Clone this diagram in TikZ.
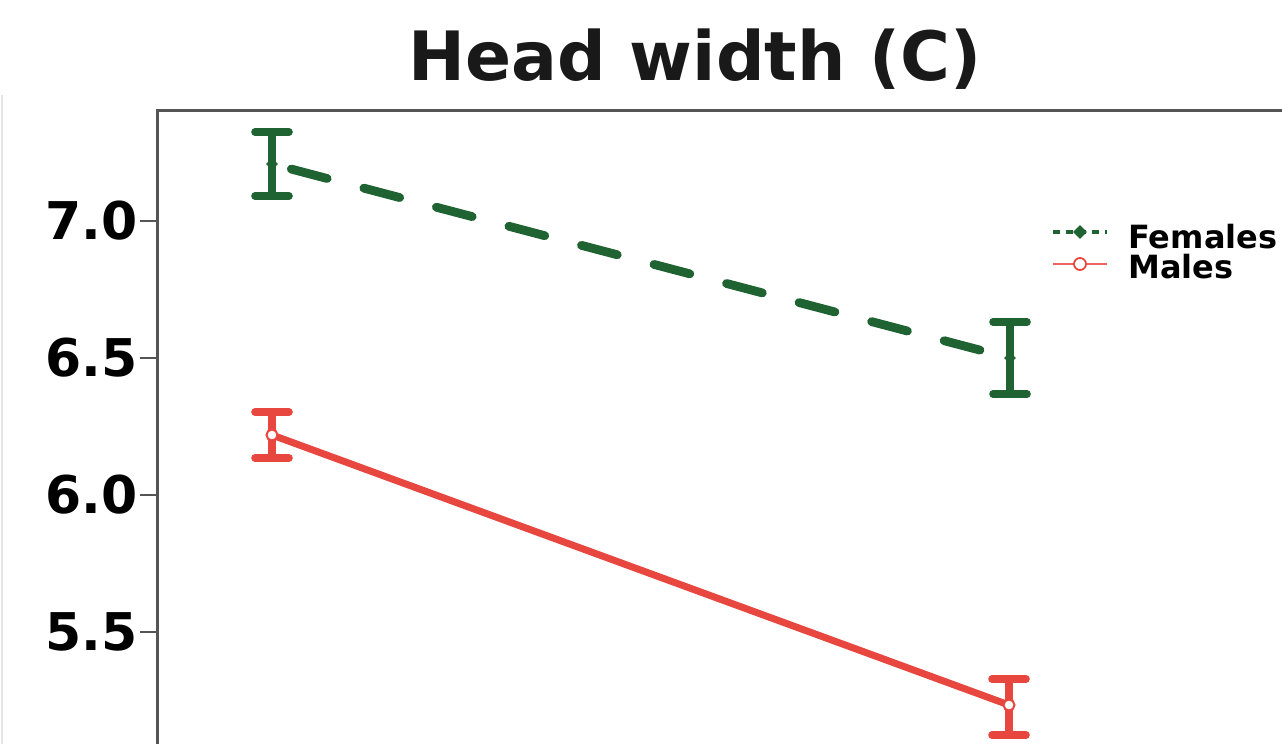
\documentclass[tikz,border=0pt]{standalone}
\usepackage{fontspec}
\setmainfont{DejaVu Sans}
\usetikzlibrary{shapes.geometric}

\definecolor{femgreen}{HTML}{1E6331}
\definecolor{malered}{HTML}{E8473F}
\definecolor{framegray}{HTML}{555555}

\begin{document}
\begin{tikzpicture}[
    x=0.5pt, y=-0.5pt,
    ticklabel/.style={
      anchor=east,
      inner sep=0pt,
      font=\fontsize{26}{30}\selectfont\bfseries
    },
    legendlabel/.style={
      anchor=base west,
      inner sep=0pt,
      font=\fontsize{16}{19}\selectfont\bfseries
    },
    errbar/.style={line width=3.8pt, line cap=round},
    femline/.style={femgreen, line width=4.4pt, line cap=round,
      dash pattern=on 18.5pt off 19pt, dash phase=27.5pt},
    maleline/.style={malered, line width=3.5pt, line cap=round},
    femmean/.style={diamond, fill=femgreen, inner sep=0pt, minimum size=6pt},
    malemean/.style={circle, draw=malered, fill=white, line width=1pt,
      inner sep=0pt, minimum size=5.5pt},
]

% page and frame
\useasboundingbox[fill=white] (0,0) rectangle (1282,744);
\draw[gray!20, line width=1pt] (2,95) -- (2,744);

\coordinate (frameBL) at (157,744);
\coordinate (frameTL) at (157,110);
\coordinate (frameTR) at (1282,110);
\draw[framegray, line width=1.5pt] (frameBL) -- (frameTL) -- (frameTR);

\node[anchor=base, font=\fontsize{34}{40}\selectfont\bfseries, text=black!90] (title) at (695,80) {Head width (C)};

% y axis
\draw[framegray, line width=1.2pt] (140,221) -- (157,221);
\draw[framegray, line width=1.2pt] (140,358) -- (157,358);
\draw[framegray, line width=1.2pt] (140,495) -- (157,495);
\draw[framegray, line width=1.2pt] (140,632) -- (157,632);
\node[ticklabel] (t70) at (138,221) {7.0};
\node[ticklabel] (t65) at (138,358) {6.5};
\node[ticklabel] (t60) at (138,495) {6.0};
\node[ticklabel] (t55) at (138,632) {5.5};

% females
\coordinate (femA) at (272,164);
\coordinate (femAtop) at (272,132);
\coordinate (femAbot) at (272,196);
\coordinate (femB) at (1010,358);
\coordinate (femBtop) at (1010,322);
\coordinate (femBbot) at (1010,394);

% males
\coordinate (maleA) at (272,435);
\coordinate (maleAtop) at (272,412);
\coordinate (maleAbot) at (272,458);
\coordinate (maleB) at (1009,705);
\coordinate (maleBtop) at (1009,679);
\coordinate (maleBbot) at (1009,735);

\draw[femline] (femA) -- (femB);
\draw[maleline] (maleA) -- (maleB);

\draw[errbar, femgreen] ([xshift=-8.5pt]femAtop) -- ([xshift=8.5pt]femAtop) (femAtop) -- (femAbot)
  ([xshift=-8.5pt]femAbot) -- ([xshift=8.5pt]femAbot);
\draw[errbar, femgreen] ([xshift=-8.5pt]femBtop) -- ([xshift=8.5pt]femBtop) (femBtop) -- (femBbot)
  ([xshift=-8.5pt]femBbot) -- ([xshift=8.5pt]femBbot);
\draw[errbar, malered] ([xshift=-8.5pt]maleAtop) -- ([xshift=8.5pt]maleAtop) (maleAtop) -- (maleAbot)
  ([xshift=-8.5pt]maleAbot) -- ([xshift=8.5pt]maleAbot);
\draw[errbar, malered] ([xshift=-8.5pt]maleBtop) -- ([xshift=8.5pt]maleBtop) (maleBtop) -- (maleBbot)
  ([xshift=-8.5pt]maleBbot) -- ([xshift=8.5pt]maleBbot);

\node[femmean] (femAmark) at (femA) {};
\node[femmean] (femBmark) at (femB) {};
\node[malemean] (maleAmark) at (maleA) {};
\node[malemean] (maleBmark) at (maleB) {};

% legend
\coordinate (legFemL) at (1053,232);
\coordinate (legFemR) at (1107,232);
\coordinate (legMaleL) at (1053,264);
\coordinate (legMaleR) at (1107,264);
\draw[femgreen, line width=2pt, dash pattern=on 3.5pt off 3pt] (legFemL) -- (legFemR);
\draw[malered!85, line width=1.3pt] (legMaleL) -- (legMaleR);
\node[femmean, minimum size=7pt] (legFemMark) at (1080,232) {};
\node[malemean, line width=0.9pt, minimum size=6pt] (legMaleMark) at (1080,264) {};
\node[legendlabel] (legFem) at (1128,248) {Females};
\node[legendlabel] (legMale) at (1128,278) {Males};

\end{tikzpicture}
\end{document}
